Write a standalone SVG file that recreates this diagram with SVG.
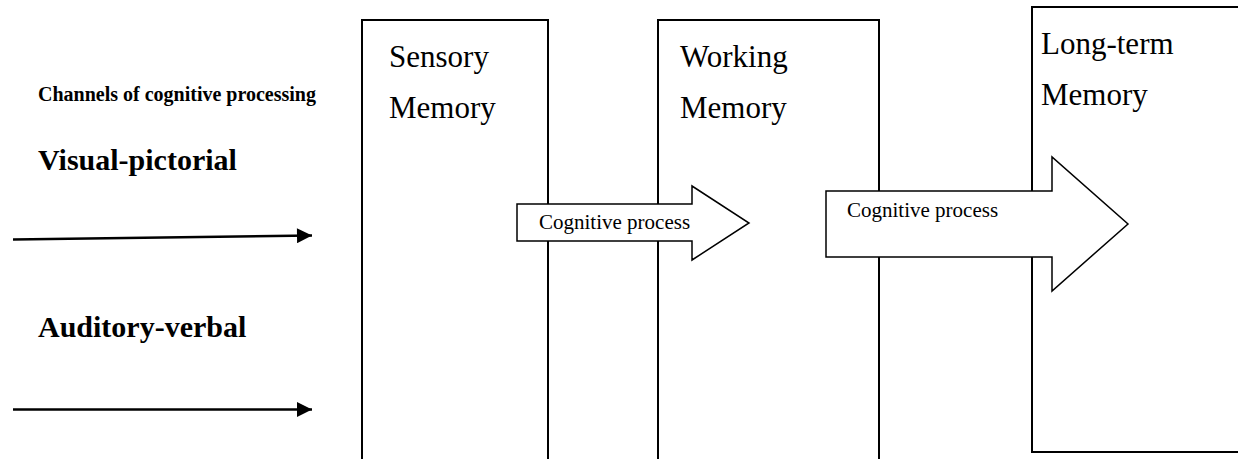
<svg xmlns="http://www.w3.org/2000/svg" width="1238" height="459" viewBox="0 0 1238 459">
<style>
.bx{fill:#fff;stroke:#000;stroke-width:2}
.ba{fill:#fff;stroke:#000;stroke-width:1.5;stroke-linejoin:miter}
.mem{font-family:"Liberation Serif","Times New Roman",serif;font-size:31px;fill:#000}
.cp{font-family:"Liberation Serif","Times New Roman",serif;font-size:21px;fill:#000}
.ch{font-family:"Liberation Serif","Times New Roman",serif;font-weight:bold;fill:#000}
.ln{stroke:#000;stroke-width:2.5;fill:none}
</style>
<defs>
<marker id="ah" viewBox="0 0 10 10" refX="10" refY="5" markerWidth="6.4" markerHeight="6" markerUnits="strokeWidth" orient="auto">
<path d="M0,0 L10,5 L0,10 z" fill="#000"/>
</marker>
</defs>
<rect width="1238" height="459" fill="#fff"/>
<g id="channels-title"><text class="ch" x="38" y="101" font-size="20">Channels of cognitive processing</text></g>
<g id="visual"><text class="ch" x="38" y="170" font-size="30">Visual-pictorial</text></g>
<g id="auditory"><text class="ch" x="38" y="337" font-size="30">Auditory-verbal</text></g>
<g id="sensory">
<rect class="bx" x="362" y="20" width="186" height="460"/>
<text class="mem" x="389" y="67">Sensory</text>
<text class="mem" x="389" y="118">Memory</text>
</g>
<g id="working">
<rect class="bx" x="658" y="20" width="221" height="460"/>
<text class="mem" x="680" y="67">Working</text>
<text class="mem" x="680" y="118">Memory</text>
</g>
<g id="longterm">
<rect class="bx" x="1032" y="7" width="230" height="445"/>
<text class="mem" x="1041" y="54">Long-term</text>
<text class="mem" x="1041" y="105">Memory</text>
</g>
<g id="process1">
<path class="ba" d="M517,204 L692,204 L692,186 L749,223 L692,260 L692,241 L517,241 Z"/>
<text class="cp" x="539" y="229">Cognitive process</text>
</g>
<g id="process2">
<path class="ba" d="M826,191 L1052,191 L1052,157 L1128,224 L1052,291 L1052,257 L826,257 Z"/>
<text class="cp" x="847" y="217">Cognitive process</text>
</g>
<g id="connectors">
<line class="ln" x1="13" y1="239.5" x2="312" y2="235.5" marker-end="url(#ah)"/>
<line class="ln" x1="13" y1="409.5" x2="312" y2="409.5" marker-end="url(#ah)"/>
</g>
</svg>
